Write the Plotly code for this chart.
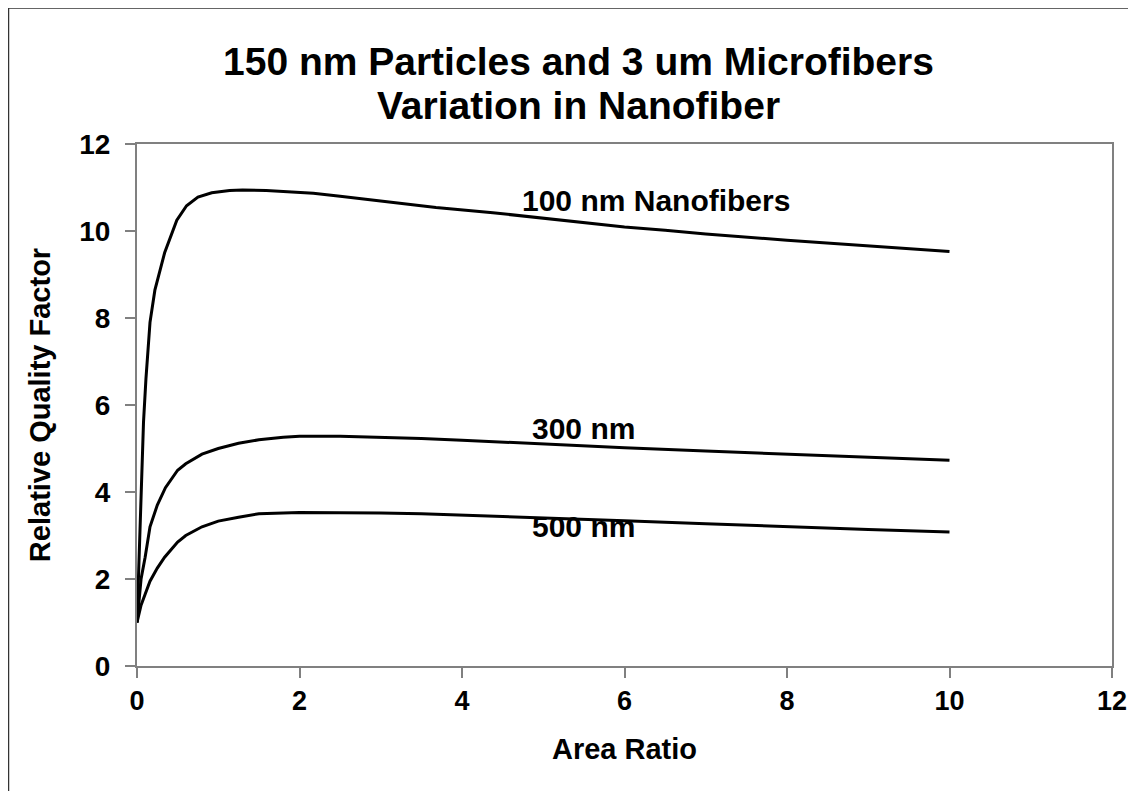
import plotly.graph_objects as go

# Data
x_100 = [0, 0.02, 0.05, 0.08, 0.11, 0.16, 0.22, 0.34, 0.49, 0.61, 0.75, 0.92, 1.14, 1.3, 1.59,
         2.17, 2.5, 3.15, 3.68, 4.38, 5.2, 6.0, 6.5, 7.0, 8.0, 9.0, 10.0]
y_100 = [1.0, 2.2, 3.9, 5.6, 6.6, 7.9, 8.64, 9.5, 10.25, 10.58, 10.78, 10.88, 10.93, 10.94, 10.93,
         10.87, 10.8, 10.66, 10.54, 10.42, 10.26, 10.09, 10.02, 9.93, 9.79, 9.66, 9.53]

x_300 = [0, 0.05, 0.1, 0.16, 0.25, 0.35, 0.5, 0.6, 0.8, 1.0, 1.25, 1.5, 1.8, 2.0, 2.5, 3.0, 3.5,
         4.0, 5.0, 6.0, 7.0, 8.0, 9.0, 10.0]
y_300 = [1.0, 2.0, 2.5, 3.2, 3.7, 4.1, 4.5, 4.65, 4.87, 5.0, 5.12, 5.2, 5.26, 5.28, 5.28, 5.26, 5.23,
         5.19, 5.1, 5.02, 4.94, 4.87, 4.8, 4.73]

x_500 = [0, 0.05, 0.1, 0.16, 0.25, 0.34, 0.5, 0.6, 0.8, 1.0, 1.25, 1.5, 2.0, 2.5, 3.0, 3.5, 4.0,
         5.0, 6.0, 7.0, 8.0, 9.0, 10.0]
y_500 = [1.0, 1.4, 1.65, 1.95, 2.25, 2.5, 2.85, 3.0, 3.2, 3.33, 3.42, 3.5, 3.53, 3.53, 3.52, 3.5, 3.47,
         3.41, 3.34, 3.27, 3.2, 3.14, 3.08]

labels = ["100 nm Nanofibers", "300 nm", "500 nm"]
label_x = [6.39, 5.5, 5.5]
label_y = [10.71, 5.45, 3.2]

title_lines = ["150 nm Particles and 3 um Microfibers", "Variation in Nanofiber"]

tick_vals = [0, 2, 4, 6, 8, 10, 12]

FONT = "Liberation Sans, Arial, sans-serif"

fig = go.Figure()
for xs, ys in [(x_100, y_100), (x_300, y_300), (x_500, y_500)]:
    fig.add_trace(go.Scatter(x=xs, y=ys, mode="lines",
                             line=dict(color="black", width=3), showlegend=False,
                             hoverinfo="skip"))

for t, lx, ly in zip(labels, label_x, label_y):
    fig.add_annotation(x=lx, y=ly, text="<b>" + t + "</b>", showarrow=False,
                       font=dict(family=FONT, size=30, color="black"))

# Two-line chart title
for t, py in zip(title_lines, [1.1590, 1.0747]):
    fig.add_annotation(x=0.4525, y=py, xref="paper", yref="paper", text="<b>" + t + "</b>",
                       showarrow=False, xanchor="center", yanchor="middle",
                       font=dict(family=FONT, size=39, color="black"))

# Outer frame around the chart (extends past right/bottom edges)
fig.add_shape(type="rect", xref="paper", yref="paper",
              x0=-0.1318, x1=1.05, y0=-0.3, y1=1.2605,
              line=dict(color="#333333", width=1.5), layer="below")

axis_common = dict(
    showgrid=False, zeroline=False, showline=True, mirror=True, automargin=False,
    linecolor="#808080", linewidth=2, ticks="outside", ticklen=10,
    tickcolor="#808080", tickwidth=1.5, ticklabeloverflow="allow",
)

fig.update_xaxes(range=[0, 12], tickvals=tick_vals, ticktext=[str(v) for v in tick_vals],
                 ticklabelstandoff=0,
                 tickfont=dict(family=FONT, size=27, color="black", weight="bold"),
                 title=dict(text="<b>Area Ratio</b>", font=dict(family=FONT, size=29, color="black"),
                            standoff=23),
                 **axis_common)
fig.update_yaxes(range=[0, 12], tickvals=tick_vals, ticktext=[str(v) for v in tick_vals],
                 ticklabelstandoff=9,
                 tickfont=dict(family=FONT, size=28, color="black", weight="bold"),
                 title=dict(text="<b>Relative Quality Factor</b>",
                            font=dict(family=FONT, size=29, color="black"), standoff=20),
                 **axis_common)

fig.update_layout(
    width=1120, height=783,
    margin=dict(l=129, r=16, t=136, b=125),
    paper_bgcolor="white", plot_bgcolor="white",
)

fig.write_html("out.html")
